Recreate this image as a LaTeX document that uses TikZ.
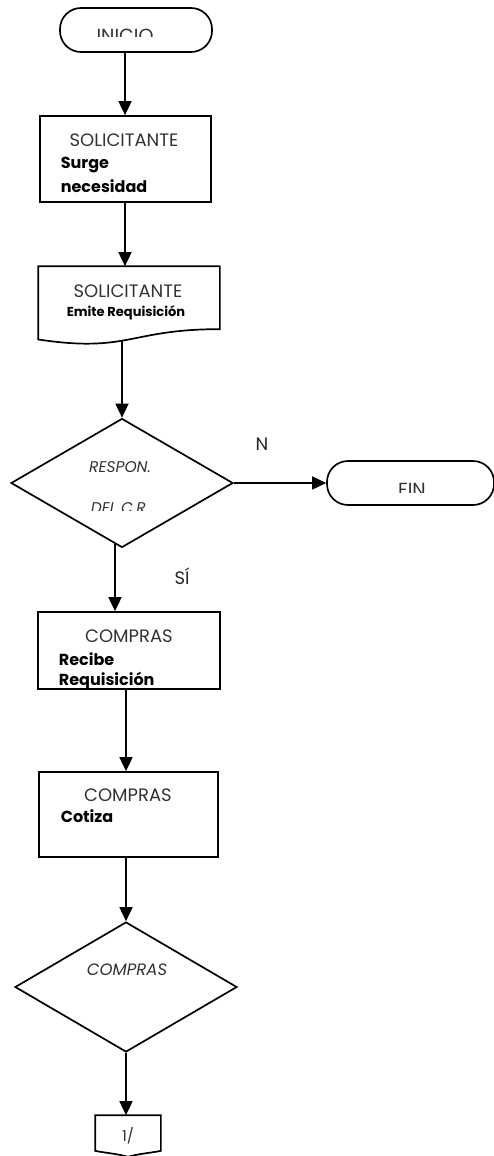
\documentclass[tikz,border=0pt]{standalone}
\usepackage{fontspec}
\setmainfont{Poppins}
\usetikzlibrary{shapes.geometric,arrows.meta,calc}
\begin{document}
\begin{tikzpicture}[x=1pt,y=-1pt,
  line width=1.7pt,
  term/.style={draw, rectangle, rounded corners=21pt, inner sep=0pt},
  procbox/.style={draw, rectangle, inner sep=0pt},
  ghost/.style={rectangle, inner sep=0pt},
  dec/.style={draw, diamond, inner sep=0pt},
  arr/.style={-{Triangle[length=14pt,width=13pt]}},
  reg/.style={inner sep=0pt, font=\fontsize{18}{21}\selectfont, text=black!80},
  bld/.style={inner sep=0pt, font=\fontsize{16}{19}\selectfont\bfseries},
  itl/.style={inner sep=0pt, font=\fontsize{15.5}{18}\selectfont\itshape, text=black!80},
  lbl/.style={inner sep=0pt, font=\fontsize{18}{21}\selectfont, text=black!85}
]
\useasboundingbox (0,0) rectangle (493,1156);

% column coordinates
\coordinate (xa) at (125,0);
\coordinate (xc) at (122,0);
\coordinate (xd) at (115,0);
\coordinate (xe) at (126,0);

% INICIO
\node[term, minimum width=152pt, minimum height=44pt] (inicio) at (136,30) {};
\begin{scope}
  \clip (60,0) rectangle (212,37);
  \node[reg, font=\fontsize{19}{22}\selectfont, anchor=base] (tinicio) at (125,42.5) {INICIO};
\end{scope}

% box 1
\node[procbox, minimum width=171pt, minimum height=86pt] (box1) at (125.5,159) {};
\node[reg, anchor=base] (t1a) at (124,146) {SOLICITANTE};
\node[bld, anchor=base west] (t1b) at (60,168) {Surge};
\node[bld, anchor=base west] (t1c) at (60,192) {necesidad};

% document
\node[ghost, minimum width=180pt, minimum height=78.5pt] (doc) at (129,306.25) {};
\draw (doc.north west) -- (doc.north east) -- ($(doc.north east)+(0,63)$)
  .. controls ($(doc.north)+(0,63)$) and ($(doc.north)+(0,87)$) .. ($(doc.north west)+(0,73.3)$) -- cycle;
\coordinate (docbot) at ($(doc.north -| xc)+(0,74)$);
\node[reg, anchor=base] (t2a) at (128,297) {SOLICITANTE};
\node[bld, font=\fontsize{13}{15}\selectfont\bfseries, anchor=base] (t2b) at (126,316) {Emite Requisición};

% decision 1
\node[dec, minimum width=222pt, minimum height=129pt] (d1) at (122,483) {};
\node[itl, anchor=base] (t3a) at (120,472) {RESPON.};
\begin{scope}
  \clip (60,490) rectangle (180,510);
  \node[itl, anchor=base] (t3b) at (120,513) {DEL C.R.};
\end{scope}
\node[lbl] (lN) at (262,444) {N};

% FIN
\node[term, minimum width=167pt, minimum height=44pt] (fin) at (410.5,483) {};
\begin{scope}
  \clip (330,470) rectangle (490,492);
  \node[reg, font=\fontsize{19}{22}\selectfont, anchor=base] (tfin) at (412,496) {FIN};
\end{scope}

\node[lbl] (lSI) at (182,576) {SÍ};

% box 2
\node[procbox, minimum width=182pt, minimum height=77pt] (box2) at (129,650.5) {};
\node[reg, anchor=base] (t4a) at (129,642) {COMPRAS};
\node[bld, anchor=base west] (t4b) at (58,665) {Recibe};
\begin{scope}
  \clip (40,668) rectangle (218,688);
  \node[bld, anchor=base west] (t4c) at (58,685) {Requisición};
\end{scope}

% box 3
\node[procbox, minimum width=179pt, minimum height=85pt] (box3) at (128.5,814.5) {};
\node[reg, anchor=base] (t5a) at (128,801) {COMPRAS};
\node[bld, anchor=base west] (t5b) at (60,822) {Cotiza};

% decision 2
\node[dec, minimum width=222pt, minimum height=130pt] (d2) at (126,987) {};
\node[itl, font=\fontsize{16.5}{19}\selectfont\itshape, anchor=base] (t6) at (127,975) {COMPRAS};

% off-page connector
\node[ghost, minimum width=64pt, minimum height=34pt] (off) at (128,1133) {};
\draw (off.north west) -- (off.north east) -- (off.south east)
  .. controls ($(off.south east)+(-10,2)$) and ($(off.south)+(10,3)$) .. ($(off.south)+(0,6)$)
  .. controls ($(off.south)+(-10,3)$) and ($(off.south west)+(10,2)$) .. (off.south west) -- cycle;
\node[reg, font=\fontsize{15}{18}\selectfont, anchor=base] (t7) at (128,1141) {1/};

% connectors
\draw[arr] (inicio.south -| xa) -- (box1.north -| xa);
\draw[arr] (box1.south -| xa) -- (doc.north -| xa);
\draw[arr] (docbot) -- (d1.north);
\draw[arr] (d1.east) -- (fin.west);
\draw[arr] ($(d1.south -| xd)+(0,-4)$) -- (box2.north -| xd);
\draw[arr] (box2.south -| xe) -- (box3.north -| xe);
\draw[arr] (box3.south -| xe) -- (d2.north);
\draw[arr] (d2.south) -- (off.north -| d2.south);
\end{tikzpicture}
\end{document}
